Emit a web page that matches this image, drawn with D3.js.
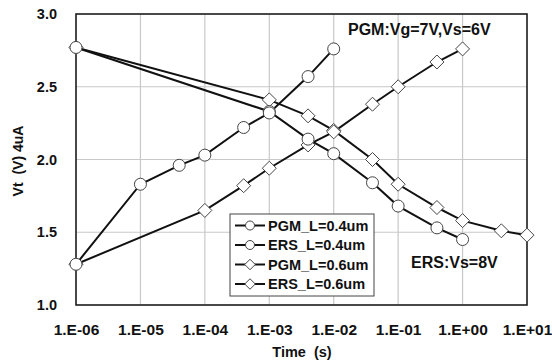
<!DOCTYPE html>
<html>
<head>
<meta charset="utf-8">
<script src="https://cdn.jsdelivr.net/npm/d3@7"></script>
<style>
body{margin:0;background:#fff;}
text{font-family:"Liberation Sans",Arial,sans-serif;font-weight:bold;}
</style>
</head>
<body>
<svg id="chart" width="552" height="362"></svg>
<script>
// series data (time in s, Vt in V)
let pgm04T=[1e-6,1e-5,4e-5,1e-4,4e-4,1e-3,4e-3,1e-2];
let pgm04V=[1.28,1.83,1.96,2.03,2.22,2.32,2.57,2.76];
let ers04T=[1e-6,1e-3,4e-3,1e-2,4e-2,1e-1,4e-1,1e0];
let ers04V=[2.77,2.33,2.14,2.04,1.84,1.68,1.53,1.45];
let pgm06T=[1e-6,1e-4,4e-4,1e-3,4e-3,1e-2,4e-2,1e-1,4e-1,1e0];
let pgm06V=[1.28,1.65,1.82,1.94,2.10,2.19,2.38,2.50,2.67,2.76];
let ers06T=[1e-6,1e-3,4e-3,1e-2,4e-2,1e-1,4e-1,1e0,4e0,1e1];
let ers06V=[2.77,2.41,2.30,2.20,2.00,1.83,1.67,1.58,1.51,1.48];
let xTicks=[1e-6,1e-5,1e-4,1e-3,1e-2,1e-1,1e0,1e1];
let xTickLabels=["1.E-06","1.E-05","1.E-04","1.E-03","1.E-02","1.E-01","1.E+00","1.E+01"];
let yTicks=[1.0,1.5,2.0,2.5,3.0];
let seriesNames=["PGM_L=0.4um","ERS_L=0.4um","PGM_L=0.6um","ERS_L=0.6um"];
let seriesShapes=["circle","circle","diamond","diamond"];

let svg=d3.select("#chart");
let pLeft=76,pRight=527,pTop=14,pBottom=305;

let x=d3.scaleLog().domain([1e-6,1e1]).range([pLeft,pRight]);
let y=d3.scaleLinear().domain([1,3]).range([pBottom,pTop]);

// grid
svg.append("g")
 .selectAll("line")
 .data(xTicks)
 .enter()
 .append("line")
 .attr("x1",function(d){return x(d);})
 .attr("x2",function(d){return x(d);})
 .attr("y1",pTop).attr("y2",pBottom)
 .attr("stroke","#c8c8c8").attr("stroke-width",1.2);
svg.append("g")
 .selectAll("line")
 .data(yTicks)
 .enter()
 .append("line")
 .attr("x1",pLeft).attr("x2",pRight)
 .attr("y1",function(d){return y(d);})
 .attr("y2",function(d){return y(d);})
 .attr("stroke","#c8c8c8").attr("stroke-width",1.2);

// axes
let xAxis=d3.axisBottom(x).tickValues(xTicks).tickSize(0).tickPadding(19)
 .tickFormat(function(d,i){return xTickLabels[i];});
let gx=svg.append("g").attr("transform","translate(0,"+pBottom+")").call(xAxis);
gx.select(".domain").remove();
gx.selectAll("text").attr("font-size",15.5).attr("fill","#111")
 .style("font-family","'Liberation Sans',Arial,sans-serif").style("font-weight","bold");

let yAxis=d3.axisLeft(y).tickValues(yTicks).tickSize(0).tickPadding(19)
 .tickFormat(d3.format(".1f"));
let gy=svg.append("g").attr("transform","translate("+pLeft+",0)").call(yAxis);
gy.select(".domain").remove();
gy.selectAll("text").attr("font-size",14.5).attr("fill","#111")
 .style("font-family","'Liberation Sans',Arial,sans-serif").style("font-weight","bold");

// plot frame
svg.append("rect")
 .attr("x",pLeft).attr("y",pTop)
 .attr("width",pRight-pLeft).attr("height",pBottom-pTop)
 .attr("fill","none").attr("stroke","#222").attr("stroke-width",1.6);

let line=d3.line()
 .x(function(d){return x(d.t);})
 .y(function(d){return y(d.v);});

function drawMarker(g,shape,cx,cy,k){
 if(shape=="circle"){
  g.append("circle").attr("cx",cx).attr("cy",cy).attr("r",6*k)
   .attr("fill","#fff").attr("stroke","#444").attr("stroke-width",1);
 }else{
  let s=7*k;
  g.append("path")
   .attr("d","M"+cx+","+(cy-s)+"L"+(cx+s)+","+cy+"L"+cx+","+(cy+s)+"L"+(cx-s)+","+cy+"Z")
   .attr("fill","#fff").attr("stroke","#444").attr("stroke-width",1);
 }
}

let allT=[pgm04T,ers04T,pgm06T,ers06T];
let allV=[pgm04V,ers04V,pgm06V,ers06V];
let lines=svg.append("g");
let marks=svg.append("g");
for(let s=3;s>=0;s--){
 let pts=allT[s].map(function(t,i){return {t:t,v:allV[s][i]};});
 lines.append("path").datum(pts).attr("d",line)
  .attr("fill","none").attr("stroke","#111").attr("stroke-width",2);
 for(let i=0;i<pts.length;i++){
  drawMarker(marks,seriesShapes[s],x(pts[i].t),y(pts[i].v),1);
 }
}

// legend
let lg=svg.append("g");
lg.append("rect").attr("x",230).attr("y",214).attr("width",144).attr("height",82)
 .attr("fill","#fff").attr("stroke","#444").attr("stroke-width",1);
for(let i=0;i<seriesNames.length;i++){
 let ly=225.5+i*19.5;
 lg.append("line").attr("x1",235).attr("x2",265).attr("y1",ly).attr("y2",ly)
  .attr("stroke","#111").attr("stroke-width",2);
 drawMarker(lg,seriesShapes[i],250,ly,0.75);
 lg.append("text").attr("x",268).attr("y",ly+5).attr("font-size",14.5)
  .attr("fill","#111").text(seriesNames[i]);
}

// annotations
svg.append("text").attr("x",348).attr("y",35).attr("font-size",16).attr("fill","#111")
 .text("PGM:Vg=7V,Vs=6V");
svg.append("text").attr("x",411).attr("y",268).attr("font-size",16).attr("fill","#111")
 .text("ERS:Vs=8V");

// axis titles
svg.append("text").attr("x",302).attr("y",357).attr("text-anchor","middle")
 .attr("font-size",14.5).attr("fill","#111").attr("xml:space","preserve").text("Time  (s)");
svg.append("text").attr("transform","translate(23,161) rotate(-90)").attr("text-anchor","middle")
 .attr("font-size",14).attr("fill","#111").attr("xml:space","preserve").text("Vt  (V) 4uA");
</script>
</body>
</html>
